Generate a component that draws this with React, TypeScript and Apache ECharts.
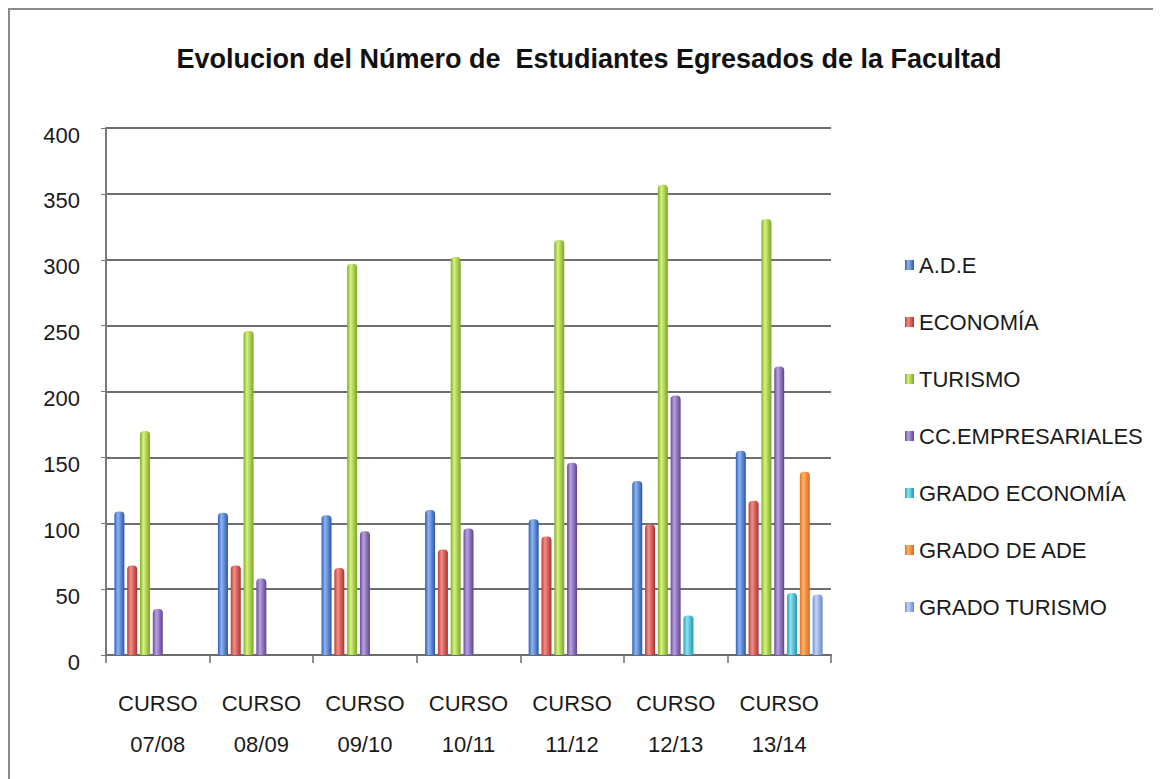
import React, { useEffect, useRef } from "react";
import * as echarts from "echarts";

const categories = ["CURSO\n07/08", "CURSO\n08/09", "CURSO\n09/10", "CURSO\n10/11", "CURSO\n11/12", "CURSO\n12/13", "CURSO\n13/14"];
const seriesNames = ["A.D.E", "ECONOMÍA", "TURISMO", "CC.EMPRESARIALES", "GRADO ECONOMÍA", "GRADO DE ADE", "GRADO TURISMO"];
const ade = [109, 108, 106, 110, 103, 132, 155];
const economia = [68, 68, 66, 80, 90, 99, 117];
const turismo = [170, 246, 297, 302, 315, 357, 331];
const ccEmpresariales = [35, 58, 94, 96, 146, 197, 219];
const gradoEconomia = [null, null, null, null, null, 30, 47];
const gradoAde = [null, null, null, null, null, null, 139];
const gradoTurismo = [null, null, null, null, null, null, 46];
const yTicks = [0, 50, 100, 150, 200, 250, 300, 350, 400];

const seriesValues = [ade, economia, turismo, ccEmpresariales, gradoEconomia, gradoAde, gradoTurismo];
const palette: [string, string, string][] = [
  ["#2d5fb8", "#8fb4f2", "#2a56a8"],
  ["#c23a36", "#f0908a", "#b02e2a"],
  ["#7fae2e", "#d8f27a", "#7aa62a"],
  ["#6a4b9c", "#b9a2e0", "#5e4290"],
  ["#2a9ec0", "#8ae4f2", "#2494b4"],
  ["#e0741e", "#ffb068", "#d86a18"],
  ["#7393d6", "#c2d4f6", "#6a88c8"],
];

const FONT = "'Liberation Sans', 'Noto Sans', sans-serif";

export default function App() {
  const ref = useRef<HTMLDivElement>(null);
  useEffect(() => {
    if (!ref.current) return;
    const chart = echarts.init(ref.current, null, { renderer: "svg" });
    const series = seriesNames.map((name, i) => ({
      name,
      type: "bar",
      data: seriesValues[i],
      barWidth: 10,
      barGap: "28%",
      itemStyle: {
        color: new echarts.graphic.LinearGradient(0, 0, 1, 0, [
          { offset: 0, color: palette[i][0] },
          { offset: 0.35, color: palette[i][1] },
          { offset: 1, color: palette[i][2] },
        ]),
        borderRadius: [4, 4, 0, 0],
      },
    }));
    chart.setOption({
      animation: false,
      backgroundColor: "#ffffff",
      title: {
        text: "Evolucion del Número de  Estudiantes Egresados de la Facultad",
        left: 574,
        textAlign: "center",
        top: 30,
        textStyle: { fontFamily: FONT, fontWeight: "bold", fontSize: 27, color: "#111" },
      },
      legend: {
        orient: "vertical",
        left: 890,
        top: 238,
        itemWidth: 9,
        itemHeight: 10,
        itemGap: 33,
        icon: "rect",
        data: seriesNames,
        textStyle: { fontFamily: FONT, fontSize: 22, color: "#1a1a1a", lineHeight: 24 },
      },
      grid: { left: 96, right: 330, top: 118, bottom: 124 },
      xAxis: {
        type: "category",
        data: categories,
        axisLine: { lineStyle: { color: "#6b6b6b", width: 2 } },
        axisTick: { show: true, length: 8, lineStyle: { color: "#6b6b6b", width: 1.5 } },
        axisLabel: { fontFamily: FONT, fontSize: 22, color: "#1a1a1a", lineHeight: 41, margin: 28 },
      },
      yAxis: {
        type: "value",
        min: yTicks[0],
        max: yTicks[yTicks.length - 1],
        interval: 50,
        axisLine: { show: true, lineStyle: { color: "#7a7a7a", width: 2 } },
        axisTick: { show: true, length: 5, lineStyle: { color: "#7a7a7a" } },
        splitLine: { lineStyle: { color: "#6e6e6e", width: 2 } },
        axisLabel: { fontFamily: FONT, fontSize: 22, color: "#1a1a1a", margin: 26, verticalAlign: "top", lineHeight: 14 },
      },
      series,
    });
    return () => chart.dispose();
  }, []);
  return (
    <div
      ref={ref}
      style={{
        width: 1153,
        height: 771,
        boxSizing: "border-box",
        borderTop: "2px solid #8a8a8a",
        borderLeft: "2px solid #8a8a8a",
      }}
    />
  );
}
